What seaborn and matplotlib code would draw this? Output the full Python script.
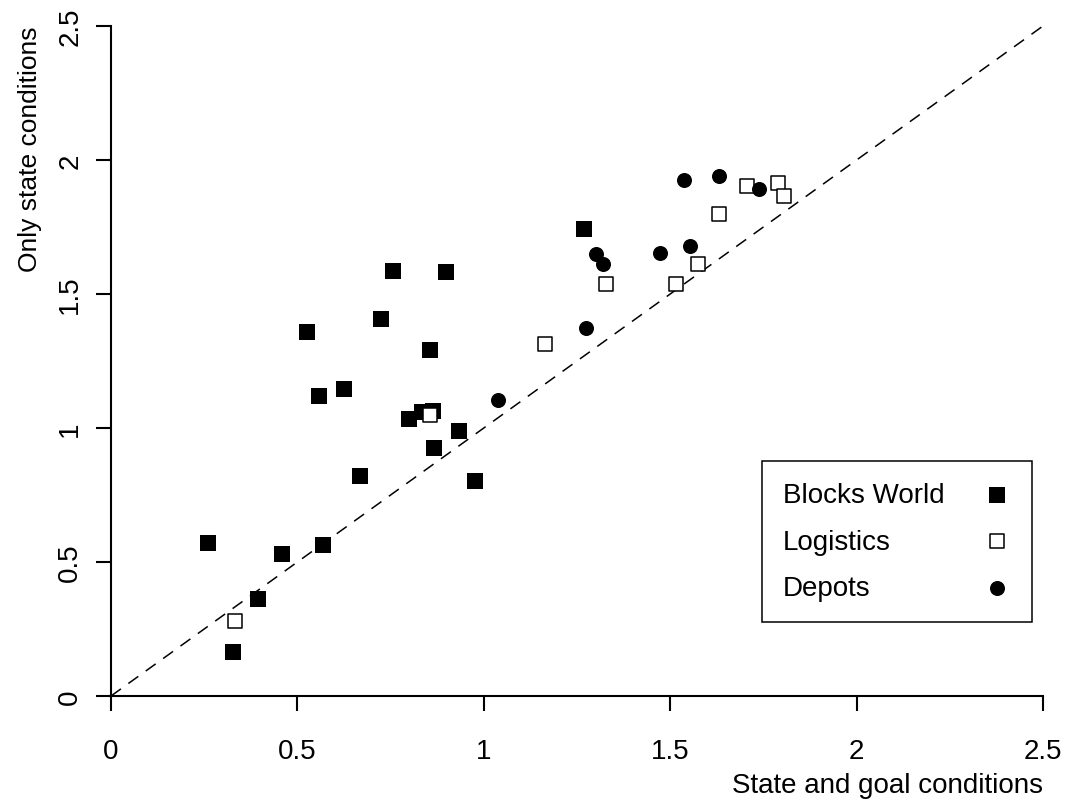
import numpy as np
import pandas as pd
import seaborn as sns
import matplotlib
matplotlib.use("Agg")
import matplotlib.pyplot as plt
from matplotlib.offsetbox import DrawingArea

# values
bw_x = [0.261, 0.460, 0.568, 0.394, 0.328, 0.757, 0.899, 0.724, 0.526, 0.856,
        0.559, 0.625, 0.800, 0.833, 0.865, 0.933, 0.866, 0.668, 0.976, 1.269]
bw_y = [0.570, 0.528, 0.562, 0.362, 0.163, 1.586, 1.583, 1.408, 1.360, 1.292,
        1.120, 1.145, 1.034, 1.058, 1.062, 0.988, 0.926, 0.820, 0.802, 1.743]

log_x = [0.333, 0.856, 1.163, 1.328, 1.516, 1.575, 1.632, 1.706, 1.788, 1.806]
log_y = [0.280, 1.050, 1.312, 1.536, 1.536, 1.611, 1.800, 1.902, 1.914, 1.865]

dep_x = [1.038, 1.273, 1.300, 1.319, 1.472, 1.552, 1.536, 1.631, 1.738]
dep_y = [1.104, 1.374, 1.648, 1.613, 1.653, 1.678, 1.925, 1.940, 1.890]

ticks = [0, 0.5, 1, 1.5, 2, 2.5]
tick_labels = ["0", "0.5", "1", "1.5", "2", "2.5"]

df_bw = pd.DataFrame({"x": bw_x, "y": bw_y})
df_log = pd.DataFrame({"x": log_x, "y": log_y})
df_dep = pd.DataFrame({"x": dep_x, "y": dep_y})

sns.set_theme(style="ticks")
plt.rcParams["font.family"] = ["Liberation Sans", "DejaVu Sans"]
plt.rcParams["text.color"] = "black"
plt.rcParams["axes.labelcolor"] = "black"

DPI = 100
fig = plt.figure(figsize=(10.7, 8.04), dpi=DPI)
ax = fig.add_axes([111 / 1070, 1 - 697 / 804, (1043 - 111) / 1070, (697 - 27) / 804])

# diagonal reference line
ax.plot([0, 2.5], [0, 2.5], color="black", lw=1.1, linestyle=(0, (8, 6)), zorder=1)

sns.scatterplot(data=df_bw, x="x", y="y", ax=ax, marker="s", color="black",
                s=117, linewidth=0, label="Blocks World", zorder=3)
sns.scatterplot(data=df_log, x="x", y="y", ax=ax, marker="s", facecolor="white",
                edgecolor="black", s=92, linewidth=1.1, label="Logistics", zorder=4)
sns.scatterplot(data=df_dep, x="x", y="y", ax=ax, marker="o", color="black",
                s=117, linewidth=0, label="Depots", zorder=5)

ax.set_xlim(0, 2.5)
ax.set_ylim(0, 2.5)
ax.set_xticks(ticks)
ax.set_xticklabels(tick_labels)
ax.set_yticks(ticks)
ax.set_yticklabels(tick_labels, rotation=90, va="center")
sns.despine(ax=ax)
for side in ["left", "bottom"]:
    ax.spines[side].set_linewidth(1.5)
    ax.spines[side].set_color("black")
ax.tick_params(axis="both", length=11, width=1.5, colors="black", labelsize=20)
ax.tick_params(axis="x", pad=19)
ax.tick_params(axis="y", pad=9)

ax.set_xlabel("State and goal conditions", fontsize=20, loc="right", labelpad=6)
ax.set_ylabel("Only state conditions", fontsize=19, loc="top", labelpad=11)

leg = ax.legend(loc="upper right", bbox_to_anchor=(1032 / 1070, 1 - 462 / 804),
                bbox_transform=fig.transFigure, borderaxespad=0, markerfirst=False,
                fancybox=False, framealpha=1, edgecolor="black", fontsize=20,
                handlelength=1.0, handletextpad=0.7, borderpad=0.75, labelspacing=0.75)
leg.get_frame().set_linewidth(1.1)

# labels left-aligned, markers in one column on the right
fig.canvas.draw()
renderer = fig.canvas.get_renderer()
widths = [t.get_window_extent(renderer).width for t in leg.get_texts()]
max_w = max(widths)
rows = leg._legend_handle_box.get_children()[0].get_children()
for row, w in zip(rows, widths):
    kids = row.get_children()
    kids.insert(1, DrawingArea((max_w - w) * 72 / DPI, 0))

fig.savefig("out.png", dpi=DPI)
